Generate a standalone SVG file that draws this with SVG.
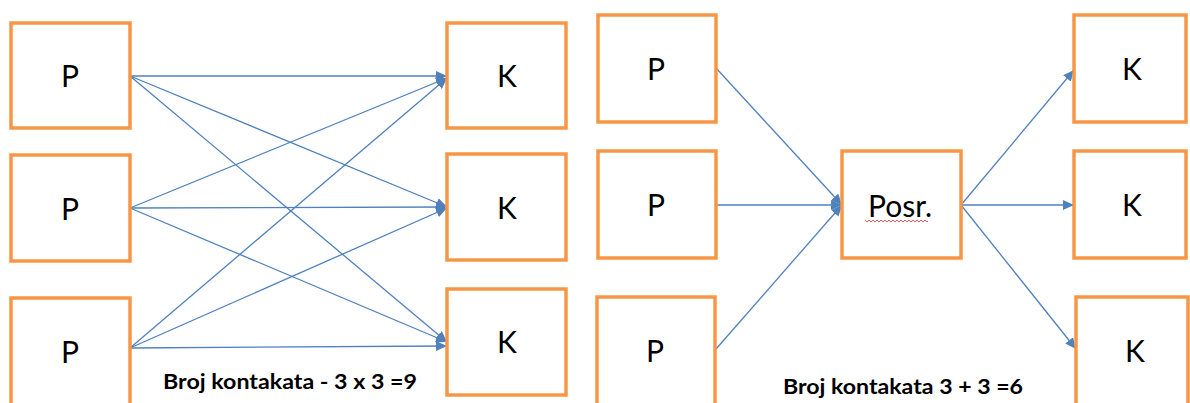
<svg xmlns="http://www.w3.org/2000/svg" width="1190" height="403" viewBox="0 0 1190 403">
<style>
.box{fill:#fff;stroke:#F79646;stroke-width:3.5}
.lbl{font-family:Lato,"Liberation Sans",sans-serif;font-size:30px;fill:#000;text-anchor:middle}
.cap{font-family:Lato,"Liberation Sans",sans-serif;font-size:21px;font-weight:bold;fill:#000}
.ln{stroke:#4F81BD;stroke-width:1.3;fill:none;marker-end:url(#ah)}
</style>
<defs>
<marker id="ah" markerUnits="userSpaceOnUse" markerWidth="12" markerHeight="10" refX="11" refY="5" orient="auto">
<path d="M0,0 L11,5 L0,10 z" fill="#4F81BD"/>
</marker>
</defs>
<rect width="1190" height="403" fill="#fff"/>
<g id="connectors">
<line class="ln" x1="130" y1="76" x2="447" y2="76"/>
<line class="ln" x1="130" y1="76" x2="447" y2="207"/>
<line class="ln" x1="130" y1="76" x2="447" y2="342"/>
<line class="ln" x1="130" y1="208" x2="447" y2="78"/>
<line class="ln" x1="130" y1="208" x2="447" y2="207"/>
<line class="ln" x1="130" y1="208" x2="447" y2="342"/>
<line class="ln" x1="130" y1="348" x2="447" y2="78"/>
<line class="ln" x1="130" y1="348" x2="447" y2="208"/>
<line class="ln" x1="130" y1="348" x2="447" y2="346"/>
<line class="ln" x1="716" y1="68" x2="842" y2="205"/>
<line class="ln" x1="716" y1="205" x2="842" y2="205"/>
<line class="ln" x1="716" y1="349" x2="842" y2="205"/>
<line class="ln" x1="961" y1="205" x2="1074" y2="70"/>
<line class="ln" x1="961" y1="205" x2="1074" y2="205"/>
<line class="ln" x1="961" y1="205" x2="1076" y2="349"/>
</g>
<g id="pL1"><rect class="box" x="11" y="23" width="119" height="105"/><text class="lbl" x="70" y="87">P</text></g>
<g id="pL2"><rect class="box" x="11" y="155" width="119" height="106"/><text class="lbl" x="70" y="220">P</text></g>
<g id="pL3"><rect class="box" x="11" y="298" width="119" height="110"/><text class="lbl" x="70" y="363">P</text></g>
<g id="kL1"><rect class="box" x="447" y="23" width="119" height="105"/><text class="lbl" x="507" y="87">K</text></g>
<g id="kL2"><rect class="box" x="447" y="154" width="119" height="106"/><text class="lbl" x="507" y="219">K</text></g>
<g id="kL3"><rect class="box" x="447" y="289" width="119" height="106"/><text class="lbl" x="507" y="353">K</text></g>
<g id="pR1"><rect class="box" x="598" y="15" width="118" height="107"/><text class="lbl" x="656" y="80">P</text></g>
<g id="pR2"><rect class="box" x="598" y="151" width="118" height="107"/><text class="lbl" x="656" y="216">P</text></g>
<g id="pR3"><rect class="box" x="597" y="297" width="118" height="110"/><text class="lbl" x="655" y="362">P</text></g>
<g id="posr"><rect class="box" x="842" y="151" width="119" height="107"/><text class="lbl" x="900" y="217">Posr.</text>
<path d="M865,220 l2,2 l2,-2 l2,2 l2,-2 l2,2 l2,-2 l2,2 l2,-2 l2,2 l2,-2 l2,2 l2,-2 l2,2 l2,-2 l2,2 l2,-2 l2,2 l2,-2 l2,2 l2,-2 l2,2 l2,-2 l2,2 l2,-2 l2,2 l2,-2 l2,2 l2,-2 l2,2 l2,-2 l2,2 l1,-1" fill="none" stroke="#E03030" stroke-width="0.8"/></g>
<g id="kR1"><rect class="box" x="1074" y="15" width="112" height="107"/><text class="lbl" x="1132" y="80">K</text></g>
<g id="kR2"><rect class="box" x="1074" y="151" width="112" height="107"/><text class="lbl" x="1132" y="216">K</text></g>
<g id="kR3"><rect class="box" x="1076" y="297" width="112" height="110"/><text class="lbl" x="1135" y="362">K</text></g>
<text class="cap" x="163" y="389" textLength="254" lengthAdjust="spacingAndGlyphs">Broj kontakata - 3 x 3 =9</text>
<text class="cap" x="783" y="394" textLength="240" lengthAdjust="spacingAndGlyphs">Broj kontakata 3 + 3 =6</text>
</svg>
